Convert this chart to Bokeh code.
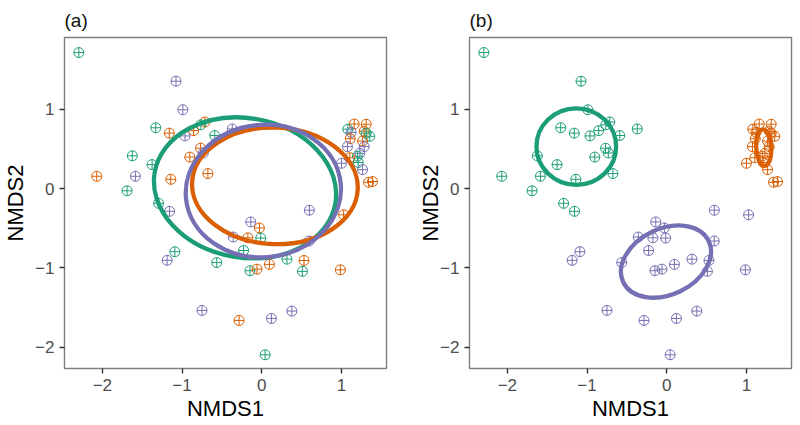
from bokeh.plotting import figure
from bokeh.layouts import row
from bokeh.models import FixedTicker, Range1d, ColumnDataSource
from bokeh.embed import file_html
from bokeh.resources import INLINE

# ---- point coordinates (same ordination in both panels) ----
nmds1 = [-2.295, -1.076, -0.990, -1.330, -1.160, -0.963, -0.854, -0.715, -0.765, -0.590,
         -0.370, -0.768, -0.733, -0.903, -1.624, -1.376, -1.585, -2.070, -1.141, -0.676,
         -1.690, -1.294, -1.157,
         0.597, 1.027, -0.138, -0.030, -0.358, -0.174, -0.013, 0.595, -0.228, -1.090,
         -1.187, -0.565, 0.316, 0.530, 0.096, -0.148, -0.060, 0.510, 0.986, -0.750,
         0.377, -0.285, 0.121, 0.042,
         1.160, 1.310, 1.080, 1.120, 1.285, 1.310, 1.355, 1.110, 1.265, 1.075,
         1.285, 1.230, 1.200, 1.105, 1.210, 1.000, 1.265, 1.340, 1.390]
nmds2 = [1.716, 1.355, 0.995, 0.768, 0.700, 0.665, 0.732, 0.840, 0.805, 0.670,
         0.753, 0.510, 0.450, 0.398, 0.414, 0.303, 0.156, 0.156, 0.118, 0.190,
         -0.027, -0.185, -0.286,
         -0.272, -0.330, -0.420, -0.495, -0.610, -0.620, -0.623, -0.660, -0.780, -0.795,
         -0.904, -0.932, -0.889, -0.906, -0.955, -1.035, -1.015, -1.043, -1.024, -1.536,
         -1.544, -1.662, -1.637, -2.095,
         0.815, 0.812, 0.750, 0.710, 0.725, 0.700, 0.660, 0.630, 0.600, 0.530,
         0.530, 0.445, 0.410, 0.390, 0.330, 0.320, 0.240, 0.080, 0.090]

# group membership for panel (a) and panel (b)
group_a = ["G", "P", "P", "G", "O", "P", "O", "O", "G", "G",
           "P", "O", "P", "O", "G", "G", "P", "O", "O", "O",
           "G", "G", "P",
           "P", "O", "P", "O", "P", "O", "G", "P", "G", "G",
           "P", "G", "G", "O", "O", "G", "O", "G", "O", "P",
           "P", "O", "P", "G",
           "O", "O", "G", "P", "O", "G", "G", "O", "O", "P",
           "P", "P", "G", "O", "G", "P", "P", "O", "O"]
group_b = ["G"] * 23 + ["P"] * 24 + ["O"] * 19

group_keys = ["G", "O", "P"]
group_colors = ["#1b9e77", "#d95f02", "#7570b3"]

# ---- ellipses: centre, full width, full height, angle (rad) ----
ell_a_x = [-0.21, 0.165, 0.02]
ell_a_y = [0.01, 0.035, -0.03]
ell_a_w = [2.30, 2.08, 1.95]
ell_a_h = [1.76, 1.47, 1.67]
ell_a_ang = [-0.17, -0.04, 0.10]

ell_b_x = [-1.135, 1.217, -0.01]
ell_b_y = [0.53, 0.518, -0.92]
ell_b_w = [1.00, 0.19, 1.19]
ell_b_h = [0.965, 0.46, 0.83]
ell_b_ang = [0.0, 0.05, 0.45]

x_ticks = [-2, -1, 0, 1]
y_ticks = [-2, -1, 0, 1]
tick_labels = {-2: "\u22122", -1: "\u22121", 0: "0", 1: "1"}

FONT = "Liberation Sans"


def make_panel(title, groups, ex, ey, ew, eh, ea, left_border, right_border, ylab_standoff):
    p = figure(frame_width=322, frame_height=331,
               min_border_left=left_border, min_border_right=right_border,
               min_border_top=29, min_border_bottom=50,
               x_range=Range1d(-2.475, 1.565), y_range=Range1d(-2.268, 1.906),
               output_backend="svg", toolbar_location=None, title=title)
    p.title.text_font = FONT
    p.title.text_font_size = "19px"
    p.title.text_font_style = "normal"
    p.title.align = "left"
    p.title.text_color = "#111111"
    p.title.standoff = 14

    colors = [group_colors[group_keys.index(g)] for g in groups]
    src = ColumnDataSource(dict(x=nmds1, y=nmds2, c=colors))
    p.scatter("x", "y", source=src, marker="circle_cross", size=10,
              fill_color=None, line_color="c", line_width=1)

    esrc = ColumnDataSource(dict(x=ex, y=ey, w=ew, h=eh, a=ea, c=group_colors))
    p.ellipse(x="x", y="y", width="w", height="h", angle="a", source=esrc,
              fill_color=None, line_color="c", line_width=4.3)

    p.xgrid.visible = False
    p.ygrid.visible = False
    p.outline_line_color = "#7f7f7f"
    p.outline_line_width = 1.4
    p.background_fill_color = "white"
    p.border_fill_color = "white"

    p.xaxis.ticker = FixedTicker(ticks=x_ticks)
    p.yaxis.ticker = FixedTicker(ticks=y_ticks)
    p.xaxis.major_label_overrides = tick_labels
    p.yaxis.major_label_overrides = tick_labels
    p.xaxis.axis_label = "NMDS1"
    p.yaxis.axis_label = "NMDS2"
    for ax in (p.xaxis, p.yaxis):
        ax.axis_line_color = None
        ax.minor_tick_line_color = None
        ax.major_tick_in = 0
        ax.major_tick_out = 5
        ax.major_tick_line_color = "#333333"
        ax.major_tick_line_width = 1.4
        ax.major_label_text_font = FONT
        ax.major_label_text_font_size = "17px"
        ax.major_label_text_color = "#4d4d4d"
        ax.axis_label_text_font = FONT
        ax.axis_label_text_font_size = "22px"
        ax.axis_label_text_font_style = "normal"
        ax.axis_label_text_color = "#000000"
        ax.major_label_standoff = 5
    p.xaxis.axis_label_standoff = 2
    p.yaxis.axis_label_standoff = ylab_standoff
    return p


pa = make_panel("(a)", group_a, ell_a_x, ell_a_y, ell_a_w, ell_a_h, ell_a_ang, 59, 10, 4)
pb = make_panel("(b)", group_b, ell_b_x, ell_b_y, ell_b_w, ell_b_h, ell_b_ang, 73, 4, -6)

layout = row(pa, pb)
open("out.html", "w").write(file_html(layout, INLINE))
